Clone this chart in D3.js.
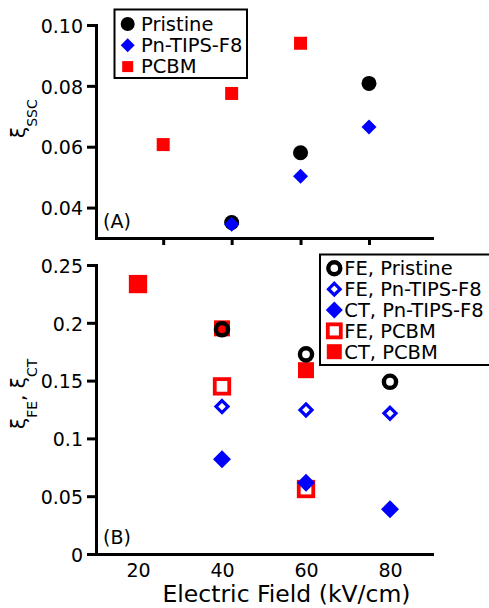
<!DOCTYPE html>
<html>
<head>
<meta charset="utf-8">
<script src="https://cdn.jsdelivr.net/npm/d3@7"></script>
<style>
  body { margin: 0; background: #fff; }
  svg text { font-family: "DejaVu Sans", sans-serif; fill: #000; }
</style>
</head>
<body>
<div id="chart"></div>
<script>
var w = 489;
var h = 608;

// panel A : xi_SSC
var sscTicksX = [26, 42.3, 58.7, 75];
var pristineSscX = [42.3, 58.7, 75];
var pristineSsc = [0.0351, 0.058, 0.0808];
var pnSscX = [42.3, 58.7, 75];
var pnSsc = [0.0345, 0.0503, 0.0665];
var pcbmSscX = [26, 42.3, 58.7];
var pcbmSsc = [0.0607, 0.0775, 0.094];
var sscTicksY = [0.04, 0.06, 0.08, 0.10];

// panel B : xi_FE, xi_CT
var fieldTicks = [20, 40, 60, 80];
var fePristineX = [40, 60, 80];
var fePristine = [0.1944, 0.1727, 0.149];
var fePnX = [40, 60, 80];
var fePn = [0.1275, 0.1246, 0.1217];
var ctPnX = [40, 60, 80];
var ctPn = [0.0819, 0.0617, 0.0387];
var fePcbmX = [20, 40, 60];
var fePcbm = [0.2335, 0.145, 0.0562];
var ctPcbmX = [20, 40, 60];
var ctPcbm = [0.2335, 0.1952, 0.159];
var feCtTicksY = [0, 0.05, 0.1, 0.15, 0.2, 0.25];

var legendA = ["Pristine", "Pn-TIPS-F8", "PCBM"];
var legendB = ["FE, Pristine", "FE, Pn-TIPS-F8", "CT, Pn-TIPS-F8", "FE, PCBM", "CT, PCBM"];

var svg = d3.select("#chart").append("svg")
  .attr("width", w)
  .attr("height", h);

var xScale = d3.scaleLinear().domain([10, 90]).range([96, 432]);
var yA = d3.scaleLinear().domain([0.03, 0.10]).range([238, 25]);
var yB = d3.scaleLinear().domain([0, 0.25]).range([554, 265]);

// open markers have different line weights
var openStroke = {circle: 4.4, square: 3.8, diamond: 3.2};

// marker drawer
function marker(g, shape, x, y, size, color, open) {
  var m;
  if (shape == "circle") {
    m = g.append("circle").attr("cx", x).attr("cy", y).attr("r", size);
  } else if (shape == "square") {
    m = g.append("rect").attr("x", x - size / 2).attr("y", y - size / 2)
      .attr("width", size).attr("height", size);
  } else {
    // diamond = square turned 45deg, size is half diagonal
    m = g.append("path")
      .attr("d", "M" + x + "," + (y - size) + "L" + (x + size) + "," + y +
                 "L" + x + "," + (y + size) + "L" + (x - size) + "," + y + "Z");
  }
  if (open) {
    m.attr("fill", "none").attr("stroke", color).attr("stroke-width", openStroke[shape]);
  } else {
    m.attr("fill", color);
  }
  return m;
}

function series(g, xs, ys, yScale, shape, size, color, open) {
  xs.forEach(function(xv, i) {
    marker(g, shape, xScale(xv), yScale(ys[i]), size, color, open);
  });
}

function styleAxis(a) {
  a.selectAll("path.domain").attr("stroke", "#000").attr("stroke-width", 3)
    .attr("stroke-linecap", "square");
  a.selectAll(".tick line").attr("stroke", "#000").attr("stroke-width", 3);
  a.selectAll("text").attr("font-size", "19px").attr("fill", "#000");
}

// ---------- panel A ----------
var gA = svg.append("g");

var axA_y = gA.append("g")
  .attr("transform", "translate(96,0)")
  .call(d3.axisLeft(yA).tickValues(sscTicksY).tickFormat(d3.format(".2f"))
    .tickSize(9).tickSizeOuter(0).tickPadding(4));
styleAxis(axA_y);
axA_y.selectAll("text").attr("dy", "0.38em");

var axA_x = gA.append("g")
  .attr("transform", "translate(0,238)")
  .call(d3.axisBottom(xScale).tickValues(sscTicksX).tickFormat("")
    .tickSize(7).tickSizeOuter(0));
styleAxis(axA_x);

var ptsA = gA.append("g");
series(ptsA, pcbmSscX, pcbmSsc, yA, "square", 13, "#ff0000", false);
series(ptsA, pristineSscX, pristineSsc, yA, "circle", 7.5, "#000", false);
series(ptsA, pnSscX, pnSsc, yA, "diamond", 7.5, "#0000ff", false);

gA.append("text").attr("x", 103).attr("y", 228).attr("font-size", "19px").text("(A)");

// y label A
var labA = gA.append("text")
  .attr("transform", "translate(25,138) rotate(-90)")
  .attr("font-size", "20px");
labA.append("tspan").text("ξ");
labA.append("tspan").attr("font-size", "14px").attr("dy", 11.5).text("SSC");

// legend A
var legA = gA.append("g");
legA.append("rect").attr("x", 114.5).attr("y", 9.5).attr("width", 132.5).attr("height", 68.5)
  .attr("fill", "#fff").attr("stroke", "#000").attr("stroke-width", 2);
var legAShapes = [["circle", 7, "#000"], ["diamond", 7, "#0000ff"], ["square", 11, "#ff0000"]];
legendA.forEach(function(name, i) {
  var cy = 24 + i * 21.3;
  marker(legA, legAShapes[i][0], 127.7, cy, legAShapes[i][1], legAShapes[i][2], false);
  legA.append("text").attr("x", 141).attr("y", cy + 6.8).attr("font-size", "19.5px").text(name);
});

// ---------- panel B ----------
var gB = svg.append("g");

var axB_y = gB.append("g")
  .attr("transform", "translate(96,0)")
  .call(d3.axisLeft(yB).tickValues(feCtTicksY).tickFormat(d3.format(""))
    .tickSize(9).tickSizeOuter(0).tickPadding(4));
styleAxis(axB_y);
axB_y.selectAll("text").attr("dy", "0.38em");

var axB_x = gB.append("g")
  .attr("transform", "translate(0,554)")
  .call(d3.axisBottom(xScale).tickValues(fieldTicks).tickSize(0).tickSizeOuter(0).tickPadding(10));
styleAxis(axB_x);

var ptsB = gB.append("g");
series(ptsB, fePcbmX, fePcbm, yB, "square", 14.5, "#ff0000", true);
series(ptsB, ctPcbmX, ctPcbm, yB, "square", 16, "#ff0000", false);
series(ptsB, fePnX, fePn, yB, "diamond", 6, "#0000ff", true);
series(ptsB, ctPnX, ctPn, yB, "diamond", 9, "#0000ff", false);
series(ptsB, fePristineX, fePristine, yB, "circle", 6.1, "#000", true);

gB.append("text").attr("x", 103).attr("y", 544).attr("font-size", "19px").text("(B)");

// y label B
var labB = gB.append("text")
  .attr("transform", "translate(25,429) rotate(-90)")
  .attr("font-size", "20px");
labB.append("tspan").text("ξ");
labB.append("tspan").attr("font-size", "14px").attr("dy", 11.5).text("FE");
labB.append("tspan").attr("dy", -11.5).text(", ξ");
labB.append("tspan").attr("font-size", "14px").attr("dy", 11.5).text("CT");

// legend B
var legB = gB.append("g");
legB.append("rect").attr("x", 320).attr("y", 254.5).attr("width", 180).attr("height", 110.5)
  .attr("fill", "#fff").attr("stroke", "#000").attr("stroke-width", 2);
var legBShapes = [
  ["circle", 6, "#000", true],
  ["diamond", 5.8, "#0000ff", true],
  ["diamond", 8.5, "#0000ff", false],
  ["square", 13, "#ff0000", true],
  ["square", 15, "#ff0000", false]
];
legendB.forEach(function(name, i) {
  var cy = 268.3 + i * 20.85;
  var s = legBShapes[i];
  marker(legB, s[0], 334.3, cy, s[1], s[2], s[3]);
  legB.append("text").attr("x", 344.3).attr("y", cy + 6.8).attr("font-size", "19.5px").text(name);
});

// x axis title
svg.append("text")
  .attr("x", 286.5).attr("y", 602)
  .attr("text-anchor", "middle")
  .attr("font-size", "23.5px")
  .text("Electric Field (kV/cm)");
</script>
</body>
</html>
